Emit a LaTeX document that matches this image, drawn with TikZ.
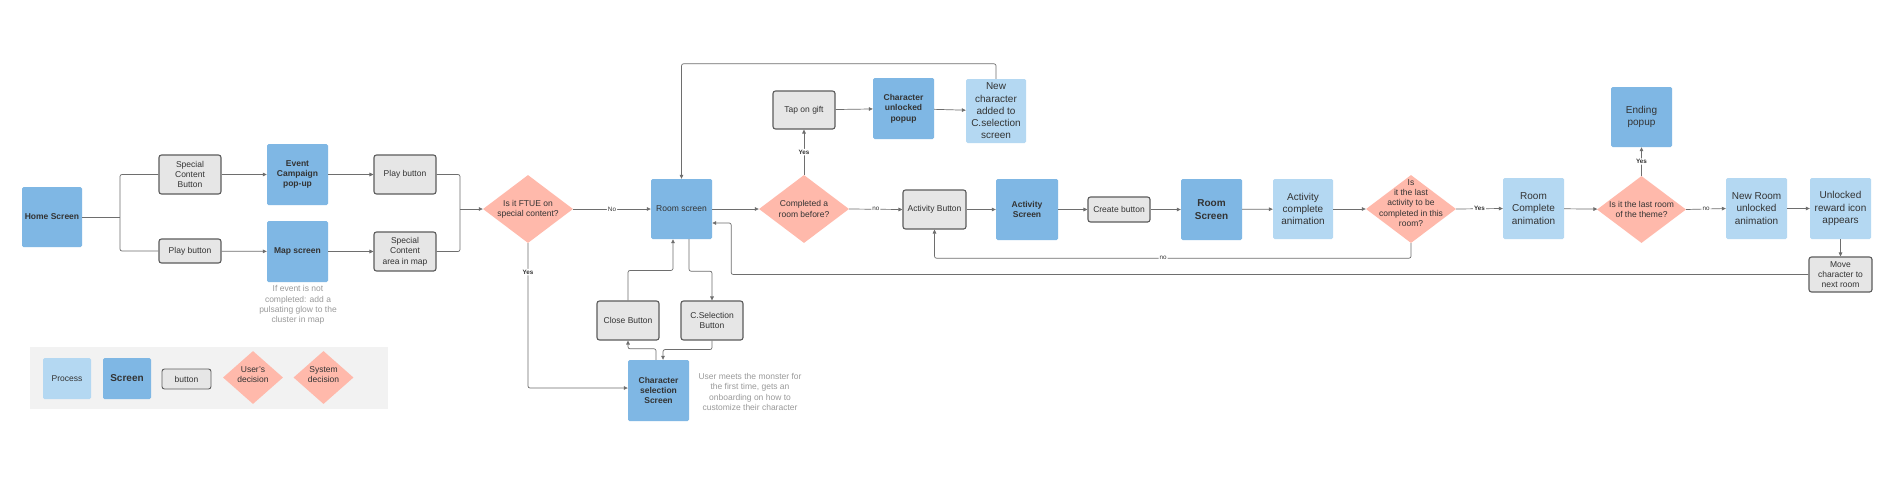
\documentclass[tikz,border=0pt]{standalone}
\usepackage{fontspec}
\setmainfont{Liberation Sans}
\usetikzlibrary{shapes.geometric,arrows.meta,calc}
\definecolor{scr}{HTML}{7FB7E4}
\definecolor{proc}{HTML}{B4D8F2}
\definecolor{btnf}{HTML}{E6E6E6}
\definecolor{btnd}{HTML}{5C5C5C}
\definecolor{dia}{HTML}{FFB9AB}
\definecolor{txt}{HTML}{333333}
\definecolor{notec}{HTML}{9A9A9A}
\definecolor{lne}{HTML}{6E6E6E}
\definecolor{lgbg}{HTML}{F2F2F2}
\newcommand\fsA{\fontsize{8.5}{10.3}\selectfont}
\newcommand\fsB{\fontsize{10}{12.3}\selectfont}
\newcommand\fsL{\fontsize{6.3}{7}\selectfont}
\begin{document}
\begin{tikzpicture}[x=1pt,y=-1pt,
 box/.style={rectangle, inner sep=0pt, align=center, text=txt, font=\fsA},
 screen/.style={box, fill=scr, rounded corners=1.5pt, minimum width=61pt, minimum height=61pt, font=\fsA\bfseries},
 process/.style={box, fill=proc, rounded corners=1.5pt, minimum width=61pt, minimum height=61pt, font=\fsB},
 btn/.style={box, fill=btnf, draw=btnd, line width=1.1pt, rounded corners=2.5pt, minimum width=62pt, minimum height=39pt},
 dec/.style={diamond, fill=dia, inner sep=0pt, minimum width=90pt, minimum height=68pt},
 dtext/.style={inner sep=0pt, align=center, text=txt, font=\fsA},
 notetext/.style={inner sep=0pt, align=center, text=notec, font=\fsA},
 arr/.style={draw=lne, line width=0.7pt, rounded corners=2pt, -{Triangle[length=4pt,width=3.6pt]}},
 ln/.style={draw=lne, line width=0.7pt, rounded corners=2pt},
 lbl/.style={fill=white, inner sep=1pt, text=txt, font=\fsL},
]
\useasboundingbox (0,0) rectangle (1898,480);
\fill[white] (0,0) rectangle (1898,480);
% legend
\fill[lgbg] (30,347) rectangle (388,409);
\node[process, minimum width=48pt, minimum height=41pt, font=\fsA] (lp) at (67,378.5) {Process};
\node[screen, minimum width=48pt, minimum height=41pt, font=\fsB\bfseries] (ls) at (127,378.5) {Screen};
\node[btn, minimum width=49pt, minimum height=20pt, line width=0.9pt] (lb) at (186.5,379) {button};
\node[dec, minimum width=60pt, minimum height=53pt, label={[dtext,yshift=3pt]center:{User's\\decision}}] (lu) at (253,377.5) {};
\node[dec, minimum width=60pt, minimum height=53pt, label={[dtext,yshift=3pt]center:{System\\decision}}] (lsd) at (323.5,377.5) {};

% left part
\node[screen, minimum width=60pt, minimum height=60pt] (home) at (52,217) {Home Screen};
\node[btn] (scb) at (190,174.5) {Special\\Content\\Button};
\node[screen] (ecp) at (297.5,174.5) {Event\\Campaign\\pop-up};
\node[btn] (pb1) at (405,174.5) {Play button};
\node[btn, minimum height=24pt] (pb2) at (190,251) {Play button};
\node[screen] (map) at (297.5,251.5) {Map screen};
\node[btn] (sca) at (405,251.5) {Special\\Content\\area in map};
\node[notetext] (n1) at (298,305) {If event is not\\completed: add a\\pulsating glow to the\\cluster in map};

\node[dec, label={[dtext]center:{Is it FTUE on\\special content?}}] (ftue) at (528,209) {};
\node[screen, font=\fsA, minimum height=60pt] (room) at (681.5,209) {Room screen};
\node[dec, label={[dtext]center:{Completed a\\room before?}}] (comp) at (804,209) {};
\node[btn, minimum height=38pt] (gift) at (804,110) {Tap on gift};
\node[screen] (unl) at (903.5,108.5) {Character\\unlocked\\popup};
\node[process, minimum width=60pt, minimum height=64pt] (newc) at (996,111) {New\\character\\added to\\C.selection\\screen};

\node[btn] (close) at (628,320.5) {Close Button};
\node[btn] (csb) at (712,320.5) {C.Selection\\Button};
\node[screen] (chs) at (658.5,390.5) {Character\\selection\\Screen};
\node[notetext] (n2) at (750,392) {User meets the monster for\\the first time, gets an\\onboarding on how to\\customize their character};

\node[btn, minimum width=63pt] (actb) at (934.5,209.5) {Activity Button};
\node[screen, minimum width=62pt] (acts) at (1027,209.5) {Activity\\Screen};
\node[btn, minimum height=25pt] (create) at (1119,209.5) {Create button};
\node[screen, font=\fsB\bfseries] (rooms) at (1211.5,209.5) {Room\\Screen};
\node[process, minimum width=60pt, minimum height=60pt] (actc) at (1303,209) {Activity\\complete\\animation};
\node[dec, label={[dtext,yshift=6pt]center:{Is\\it the last\\activity to be\\completed in this\\room?}}] (dlast) at (1411,209) {};
\node[process] (rcomp) at (1533.5,208.5) {Room\\Complete\\animation};
\node[dec, minimum width=89pt, minimum height=67pt, label={[dtext]center:{Is it the last room\\of the theme?}}] (droom) at (1641.5,209.5) {};
\node[screen, font=\fsB, minimum height=60pt] (endp) at (1641.5,117) {Ending\\popup};
\node[process] (newr) at (1756.5,208.5) {New Room\\unlocked\\animation};
\node[process] (rew) at (1840.5,208.5) {Unlocked\\reward icon\\appears};
\node[btn, minimum width=63pt, minimum height=35pt] (move) at (1840.5,274.5) {Move\\character to\\next room};

% connectors
\coordinate (fk) at (120,217);
\draw[ln] (home.east) -- (fk);
\draw[ln] (scb.west) -| (fk) |- (pb2.west);
\draw[arr] (scb) -- (ecp);
\draw[arr] (ecp) -- (pb1);
\draw[arr] (pb2) -- (map);
\draw[arr] (map) -- (sca);
\coordinate (mg) at (460,209);
\draw[ln] (pb1.east) -| (mg) |- (sca.east);
\draw[arr] (mg) -- (ftue.west);
\draw[arr] (ftue.east) -- node[lbl]{No} (room.west);
\draw[arr] (ftue.south) |- node[lbl,pos=0.1]{\textbf{Yes}} ([yshift=2.5pt]chs.west);
\draw[arr] (room.east) -- (comp.west);
\draw[arr] (comp.north) -- node[lbl]{\textbf{Yes}} (gift.south);
\draw[arr] (gift) -- (unl);
\draw[arr] (unl) -- (newc);
\draw[arr] (newc.north) -- ++(0,-15) -| (room.north);
\draw[arr] (comp.east) -- node[lbl]{no} (actb.west);
\draw[arr] (actb) -- (acts);
\draw[arr] (acts) -- (create);
\draw[arr] (create) -- (rooms);
\draw[arr] (rooms) -- (actc);
\draw[arr] (actc) -- (dlast);
\draw[arr] (dlast.east) -- node[lbl]{\textbf{Yes}} (rcomp.west);
\draw[arr] (dlast.south) -- ++(0,15) -| node[lbl,pos=0.26]{no} (actb.south);
\draw[arr] (rcomp) -- (droom);
\draw[arr] (droom.north) -- node[lbl]{\textbf{Yes}} (endp.south);
\draw[arr] (droom.east) -- node[lbl]{no} (newr.west);
\draw[arr] (newr) -- (rew);
\draw[arr] (rew) -- (move);
\draw[arr] (move.west) -| ([xshift=19pt,yshift=-14pt]room.east) -- ([yshift=-14pt]room.east);
\draw[arr] ([xshift=7.5pt]room.south) -- ++(0,32) -| (csb.north);
\draw[arr] (close.north) -- ++(0,-30) -| ([xshift=-8.5pt]room.south);
\draw[arr] (csb.south) -- ++(0,9) -| ([xshift=4.5pt]chs.north);
\draw[arr] ([xshift=-2.5pt]chs.north) -- ++(0,-11) -| (close.south);
\end{tikzpicture}
\end{document}
